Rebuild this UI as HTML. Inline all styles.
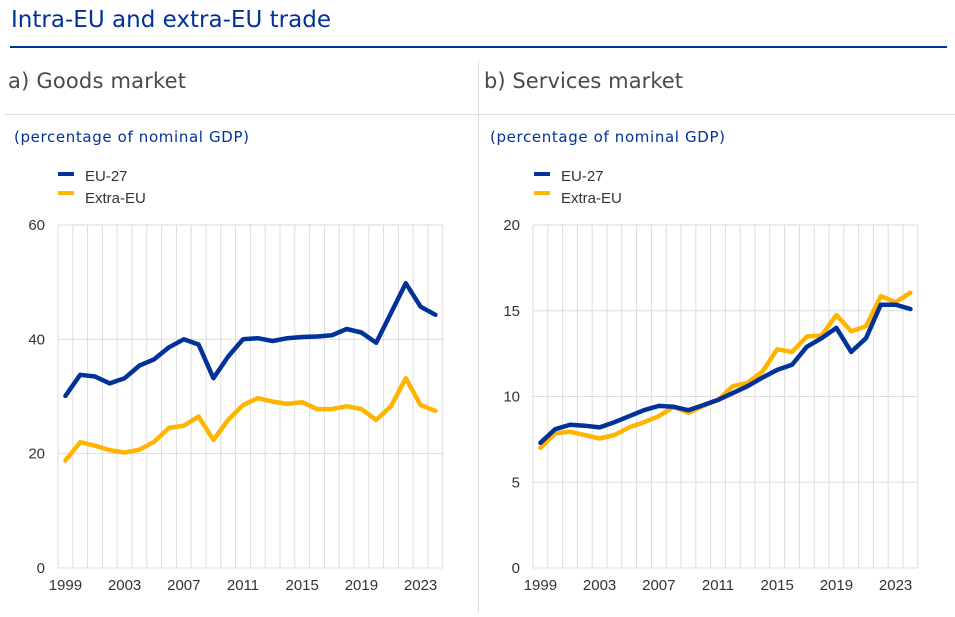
<!DOCTYPE html>
<html><head><meta charset="utf-8"><style>
body{margin:0;width:955px;height:612px;background:#fff;overflow:hidden;font-family:"Liberation Sans",sans-serif;}
</style></head><body>
<svg width="955" height="612" xmlns="http://www.w3.org/2000/svg" id="s" font-family="Liberation Sans, sans-serif">
<text x="11" y="27" font-size="23" fill="#003299" font-family="DejaVu Sans, sans-serif" textLength="320">Intra-EU and extra-EU trade</text>
<rect x="10" y="46" width="937" height="2" fill="#003299"/>
<line x1="478.5" y1="61" x2="478.5" y2="612" stroke="#ddd"/>
<line x1="4" y1="114.5" x2="955" y2="114.5" stroke="#ddd"/>
<text x="8" y="88" font-size="21" fill="#4a4a4a" font-family="DejaVu Sans, sans-serif" textLength="178">a) Goods market</text>
<text x="484" y="88" font-size="21" fill="#4a4a4a" font-family="DejaVu Sans, sans-serif" textLength="199">b) Services market</text>
<text x="14" y="142" font-size="15" fill="#003299" font-family="DejaVu Sans, sans-serif" textLength="235">(percentage of nominal GDP)</text>
<text x="490" y="142" font-size="15" fill="#003299" font-family="DejaVu Sans, sans-serif" textLength="235">(percentage of nominal GDP)</text>
<g id="g"></g>
</svg>
<script>
var g=document.getElementById('g'),h='';
var L={eu:[30.1,33.8,33.5,32.3,33.2,35.4,36.5,38.6,40.0,39.1,33.2,37.0,40.0,40.2,39.7,40.2,40.4,40.5,40.7,41.8,41.2,39.4,44.6,49.8,45.7,44.3],
ex:[18.8,22.0,21.4,20.6,20.2,20.7,22.1,24.5,24.9,26.5,22.4,25.9,28.5,29.7,29.1,28.7,29.0,27.8,27.8,28.3,27.8,25.9,28.3,33.2,28.5,27.5]};
var R={eu:[7.3,8.1,8.35,8.3,8.2,8.5,8.85,9.2,9.45,9.4,9.2,9.5,9.8,10.2,10.6,11.1,11.55,11.85,12.9,13.4,14.0,12.6,13.4,15.35,15.35,15.1],
ex:[7.0,7.85,7.95,7.75,7.55,7.75,8.2,8.5,8.85,9.4,9.05,9.45,9.8,10.6,10.8,11.45,12.75,12.6,13.5,13.55,14.75,13.8,14.1,15.85,15.5,16.05]};
function chart(x0,max,step,d,lx){
 var top=225,bot=568,sp=14.8;
 for(var i=0;i<=26;i++){var x=x0+i*sp;h+='<line x1="'+x+'" y1="'+top+'" x2="'+x+'" y2="'+bot+'" stroke="#ddd"/>';}
 for(var v=0;v<=max;v+=step){var y=bot-(v/max)*(bot-top);h+='<line x1="'+x0+'" y1="'+y+'" x2="'+(x0+26*sp)+'" y2="'+y+'" stroke="#ddd"/>';
  h+='<text x="'+(x0-13)+'" y="'+(y+5)+'" font-size="15" fill="#333" text-anchor="end">'+v+'</text>';}
 for(var yr=1999;yr<=2023;yr+=4){var x=x0+sp/2+(yr-1999)*sp;h+='<text x="'+x+'" y="590" font-size="15" fill="#333" text-anchor="middle">'+yr+'</text>';}
 [['ex','#ffb400'],['eu','#003299']].forEach(function(s){var p=d[s[0]].map(function(v,i){return (x0+sp/2+i*sp).toFixed(1)+','+(bot-v/max*(bot-top)).toFixed(1)}).join(' ');
  h+='<polyline points="'+p+'" fill="none" stroke="'+s[1]+'" stroke-width="4.5" stroke-linejoin="round" stroke-linecap="round"/>';});
 h+='<rect x="'+lx+'" y="172" width="16" height="4" fill="#003299"/><rect x="'+lx+'" y="191" width="16" height="4" fill="#ffb400"/>';
 h+='<text x="'+(lx+27)+'" y="181" font-size="15" fill="#333">EU-27</text><text x="'+(lx+27)+'" y="203" font-size="15" fill="#333">Extra-EU</text>';
}
chart(58,60,20,L,58);
chart(533,20,5,R,534);
g.innerHTML=h;
</script>
</body></html>
